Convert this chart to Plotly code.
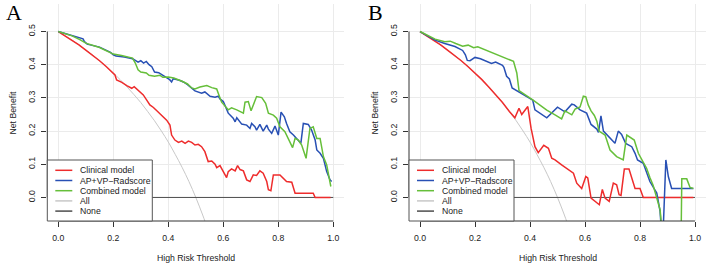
import plotly.graph_objects as go

W, H = 712, 268

# ---------------- data ----------------
series_names = ["Clinical model", "AP+VP\u2212Radscore", "Combined model", "All", "None"]
x_ticks = [0.0, 0.2, 0.4, 0.6, 0.8, 1.0]
x_tick_labels = ["0.0", "0.2", "0.4", "0.6", "0.8", "1.0"]
y_ticks = [0.0, 0.1, 0.2, 0.3, 0.4, 0.5]
y_tick_labels = ["0.0", "0.1", "0.2", "0.3", "0.4", "0.5"]

all_t = [0, 0.025, 0.05, 0.075, 0.1, 0.125, 0.15, 0.175, 0.2, 0.225, 0.25, 0.275, 0.3,
         0.325, 0.35, 0.375, 0.4, 0.425, 0.45, 0.475, 0.5, 0.525, 0.55]
all_nb = [0.5, 0.487, 0.474, 0.46, 0.444, 0.429, 0.412, 0.394, 0.375, 0.355, 0.333, 0.31, 0.286,
          0.259, 0.231, 0.2, 0.167, 0.13, 0.091, 0.048, 0.0, -0.053, -0.111]
none_t = [0, 1]
none_nb = [0, 0]

# Panel A
a_clin_t = [0, 0.025, 0.05, 0.075, 0.1, 0.125, 0.15, 0.175, 0.2, 0.206, 0.212, 0.231, 0.249, 0.267,
            0.276, 0.285, 0.297, 0.309, 0.321, 0.333, 0.346, 0.358, 0.376, 0.394, 0.406, 0.412,
            0.424, 0.437, 0.449, 0.461, 0.473, 0.485, 0.497, 0.509, 0.521, 0.533, 0.545, 0.558,
            0.570, 0.576, 0.588, 0.600, 0.612, 0.618, 0.630, 0.643, 0.652, 0.661, 0.673, 0.685,
            0.697, 0.709, 0.721, 0.733, 0.745, 0.758, 0.764, 0.773, 0.782, 0.806, 0.818, 0.830,
            0.849, 0.861, 0.927, 0.934, 0.99]
a_clin_nb = [0.5, 0.487, 0.474, 0.46, 0.444, 0.429, 0.412, 0.394, 0.375, 0.369, 0.354, 0.347, 0.337,
             0.329, 0.334, 0.327, 0.319, 0.309, 0.294, 0.279, 0.271, 0.261, 0.248, 0.233, 0.218,
             0.188, 0.173, 0.166, 0.170, 0.163, 0.170, 0.166, 0.158, 0.160, 0.153, 0.138, 0.108,
             0.110, 0.100, 0.090, 0.096, 0.078, 0.060, 0.078, 0.086, 0.080, 0.096, 0.084, 0.080,
             0.053, 0.048, 0.068, 0.066, 0.080, 0.073, 0.048, 0.023, 0.020, 0.068, 0.068, 0.058,
             0.048, 0.046, 0.013, 0.013, 0.0, 0.0]

a_rad_t = [0, 0.05, 0.08, 0.09, 0.095, 0.105, 0.15, 0.18, 0.19, 0.2, 0.21, 0.24, 0.27, 0.28, 0.29,
           0.30, 0.31, 0.32, 0.33, 0.34, 0.35, 0.365, 0.38, 0.395, 0.405, 0.412, 0.418, 0.44,
           0.455, 0.47, 0.485, 0.497, 0.521, 0.533, 0.552, 0.570, 0.582, 0.588, 0.600, 0.618,
           0.636, 0.643, 0.649, 0.661, 0.667, 0.685, 0.697, 0.703, 0.715, 0.721, 0.733, 0.745,
           0.758, 0.764, 0.776, 0.788, 0.800, 0.810, 0.822, 0.830, 0.842, 0.855, 0.867, 0.882,
           0.891, 0.909, 0.921, 0.934, 0.940, 0.952, 0.964, 0.976, 0.988, 0.994]
a_rad_nb = [0.5, 0.488, 0.481, 0.478, 0.47, 0.462, 0.453, 0.44, 0.437, 0.43, 0.426, 0.423, 0.418,
            0.413, 0.408, 0.412, 0.405, 0.41, 0.40, 0.394, 0.378, 0.376, 0.368, 0.36, 0.355, 0.348,
            0.358, 0.353, 0.348, 0.34, 0.33, 0.321, 0.314, 0.318, 0.305, 0.302, 0.305, 0.297,
            0.289, 0.254, 0.239, 0.228, 0.240, 0.228, 0.221, 0.218, 0.208, 0.223, 0.213, 0.203,
            0.220, 0.200, 0.218, 0.206, 0.193, 0.215, 0.188, 0.257, 0.243, 0.223, 0.198, 0.188,
            0.178, 0.163, 0.223, 0.220, 0.203, 0.173, 0.143, 0.133, 0.118, 0.078, 0.053, 0.048]

a_comb_t = [0, 0.05, 0.08, 0.10, 0.15, 0.18, 0.20, 0.23, 0.26, 0.27, 0.28, 0.29, 0.30, 0.32, 0.33,
            0.35, 0.37, 0.38, 0.40, 0.42, 0.45, 0.47, 0.485, 0.497, 0.515, 0.540, 0.558, 0.576,
            0.584, 0.594, 0.618, 0.630, 0.649, 0.673, 0.679, 0.691, 0.701, 0.721, 0.740, 0.754,
            0.764, 0.782, 0.794, 0.806, 0.824, 0.840, 0.852, 0.861, 0.873, 0.885, 0.901, 0.915,
            0.927, 0.940, 0.952, 0.964, 0.976, 0.991]
a_comb_nb = [0.5, 0.487, 0.475, 0.465, 0.452, 0.44, 0.432, 0.428, 0.422, 0.420, 0.405, 0.385, 0.378,
             0.375, 0.368, 0.365, 0.368, 0.362, 0.363, 0.36, 0.35, 0.342, 0.33, 0.327, 0.333, 0.337,
             0.331, 0.327, 0.309, 0.287, 0.264, 0.270, 0.264, 0.254, 0.287, 0.289, 0.261, 0.304,
             0.301, 0.284, 0.254, 0.248, 0.239, 0.213, 0.198, 0.173, 0.150, 0.178, 0.173, 0.158,
             0.118, 0.208, 0.213, 0.178, 0.178, 0.123, 0.098, 0.033]

# Panel B
b_clin_t = [0, 0.025, 0.05, 0.075, 0.1, 0.125, 0.15, 0.175, 0.2, 0.225, 0.25, 0.275, 0.3, 0.325,
            0.345, 0.36, 0.37, 0.392, 0.404, 0.418, 0.43, 0.45, 0.467, 0.479, 0.491, 0.515, 0.539,
            0.558, 0.570, 0.588, 0.603, 0.610, 0.622, 0.636, 0.652, 0.663, 0.673, 0.688, 0.703,
            0.715, 0.724, 0.731, 0.743, 0.760, 0.782, 0.800, 0.812, 0.994]
b_clin_nb = [0.5, 0.487, 0.474, 0.46, 0.444, 0.429, 0.412, 0.394, 0.375, 0.355, 0.333, 0.31, 0.286,
             0.259, 0.240, 0.269, 0.25, 0.274, 0.208, 0.153, 0.135, 0.157, 0.148, 0.118, 0.113,
             0.098, 0.083, 0.073, 0.043, 0.027, 0.063, 0.059, -0.002, -0.012, -0.022, 0.024,
             -0.002, -0.012, 0.043, 0.038, 0.008, 0.006, 0.086, 0.086, 0.027, 0.027, 0.0, 0.0]

b_rad_t = [0, 0.055, 0.09, 0.127, 0.155, 0.165, 0.172, 0.182, 0.20, 0.22, 0.26, 0.275, 0.30, 0.305,
           0.315, 0.325, 0.335, 0.345, 0.36, 0.41, 0.418, 0.461, 0.50, 0.515, 0.527, 0.552, 0.561,
           0.582, 0.606, 0.622, 0.643, 0.649, 0.658, 0.667, 0.691, 0.709, 0.721, 0.733, 0.748,
           0.770, 0.782, 0.791, 0.812, 0.824, 0.836, 0.861, 0.873, 0.882, 0.894, 0.903, 0.915, 0.994]
b_rad_nb = [0.5, 0.474, 0.464, 0.455, 0.443, 0.43, 0.413, 0.412, 0.422, 0.418, 0.404, 0.408, 0.398,
            0.392, 0.365, 0.357, 0.33, 0.325, 0.32, 0.293, 0.264, 0.240, 0.272, 0.264, 0.258, 0.281,
            0.279, 0.264, 0.254, 0.220, 0.206, 0.196, 0.246, 0.200, 0.178, 0.163, 0.200, 0.190,
            0.163, 0.153, 0.133, 0.113, 0.103, 0.078, 0.048, 0.013, -0.042, -0.15, 0.113, 0.063,
            0.027, 0.027]

b_comb_t = [0, 0.055, 0.09, 0.11, 0.13, 0.155, 0.175, 0.195, 0.21, 0.30, 0.34, 0.352, 0.36, 0.41,
            0.461, 0.491, 0.515, 0.527, 0.545, 0.552, 0.564, 0.582, 0.594, 0.603, 0.612, 0.622,
            0.634, 0.643, 0.651, 0.673, 0.691, 0.715, 0.739, 0.752, 0.779, 0.794, 0.809, 0.824,
            0.836, 0.848, 0.861, 0.873, 0.885, 0.949, 0.952, 0.970, 0.982, 0.994]
b_comb_nb = [0.5, 0.477, 0.469, 0.471, 0.464, 0.456, 0.459, 0.451, 0.454, 0.425, 0.41, 0.375, 0.322,
             0.294, 0.263, 0.249, 0.237, 0.261, 0.254, 0.249, 0.266, 0.273, 0.305, 0.303, 0.278,
             0.261, 0.247, 0.230, 0.200, 0.188, 0.143, 0.123, 0.113, 0.188, 0.173, 0.133, 0.110,
             0.088, 0.060, 0.036, -0.002, -0.037, -0.15, -0.15, 0.056, 0.056, 0.030, 0.027]

# ---------------- style ----------------
RED = "#EE2C2C"
BLUE = "#2850B4"
GREEN = "#66BF3A"
ALLC = "#C8C8C8"
NONEC = "#4D4D4D"
colors = [RED, BLUE, GREEN, ALLC, NONEC]
FONT = "Liberation Sans, Arial, Helvetica, sans-serif"
FS = 8.7
TXT = "#222222"
LW = 1.5

fig = go.Figure()


def add_panel(xa, ya, clin, rad, comb):
    kw = dict(xaxis=xa, yaxis=ya, mode="lines", showlegend=False, hoverinfo="skip")
    fig.add_trace(go.Scatter(x=all_t, y=all_nb, line=dict(color=ALLC, width=1, shape="spline"), **kw))
    fig.add_trace(go.Scatter(x=none_t, y=none_nb, line=dict(color=NONEC, width=1), **kw))
    fig.add_trace(go.Scatter(x=clin[0], y=clin[1], line=dict(color=RED, width=LW), **kw))
    fig.add_trace(go.Scatter(x=rad[0], y=rad[1], line=dict(color=BLUE, width=LW), **kw))
    fig.add_trace(go.Scatter(x=comb[0], y=comb[1], line=dict(color=GREEN, width=LW), **kw))


add_panel("x", "y", (a_clin_t, a_clin_nb), (a_rad_t, a_rad_nb), (a_comb_t, a_comb_nb))
add_panel("x2", "y2", (b_clin_t, b_clin_nb), (b_rad_t, b_rad_nb), (b_comb_t, b_comb_nb))


def px_x(p):
    return p / W


def px_y(p):
    return 1 - p / H


panels = [
    dict(left=47.3, right=344.3, name="A", lab_x=4, ytitle_x=12, xa="x", ya="y"),
    dict(left=409.0, right=706.0, name="B", lab_x=366, ytitle_x=374, xa="x2", ya="y2"),
]
top_px, bot_px = 4, 221

common_x = dict(range=[-0.04, 1.04], tickvals=x_ticks, ticktext=x_tick_labels, ticks="outside",
                ticklen=5, tickwidth=1, tickcolor="#333333", showgrid=True, gridcolor="#EBEBEB",
                gridwidth=1, zeroline=False, showline=False, ticklabelstandoff=4,
                tickfont=dict(family=FONT, size=FS, color=TXT), fixedrange=True)
common_y = dict(range=[-0.071, 0.583], tickvals=y_ticks, ticktext=y_tick_labels, ticks="outside",
                ticklen=5, tickwidth=1, tickcolor="#333333", showgrid=True, gridcolor="#EBEBEB",
                gridwidth=1, zeroline=False, showline=False, tickangle=-90, ticklabelstandoff=3,
                tickfont=dict(family=FONT, size=FS, color=TXT), fixedrange=True)

layout_axes = {}
shapes = []
annotations = []
for i, p in enumerate(panels):
    sfx = "" if i == 0 else "2"
    layout_axes["xaxis" + sfx] = dict(common_x, domain=[px_x(p["left"]), px_x(p["right"])],
                                      anchor=p["ya"])
    layout_axes["yaxis" + sfx] = dict(common_y, domain=[px_y(bot_px), px_y(top_px)],
                                      anchor=p["xa"])
    xd = p["xa"] + " domain"
    yd = p["ya"] + " domain"
    # axis lines (R style: from first to last tick)
    shapes.append(dict(type="line", xref=p["xa"], yref=yd, x0=0, x1=1, y0=0, y1=0,
                       line=dict(color="#333333", width=1)))
    shapes.append(dict(type="line", xref=xd, yref=p["ya"], x0=0, x1=0, y0=0, y1=0.5,
                       line=dict(color="#333333", width=1)))
    # legend box
    lx0 = p["left"]
    lx1 = lx0 + 105
    ly0, ly1 = 160, 221
    shapes.append(dict(type="rect", xref="paper", yref="paper", x0=px_x(lx0), x1=px_x(lx1),
                       y0=px_y(ly1), y1=px_y(ly0), line=dict(color="#555555", width=1),
                       fillcolor="white", layer="above"))
    for k, (nm, c) in enumerate(zip(series_names, colors)):
        ry = 170.3 + k * 10.2
        shapes.append(dict(type="line", xref="paper", yref="paper", x0=px_x(lx0 + 8),
                           x1=px_x(lx0 + 25), y0=px_y(ry), y1=px_y(ry),
                           line=dict(color=c, width=LW), layer="above"))
        annotations.append(dict(x=px_x(lx0 + 30.5), y=px_y(ry), xref="paper", yref="paper",
                                text=nm, showarrow=False, xanchor="left", yanchor="middle",
                                font=dict(family=FONT, size=FS, color=TXT)))
    # axis titles
    annotations.append(dict(x=(px_x(p["left"]) + px_x(p["right"])) / 2, y=px_y(258),
                            xref="paper", yref="paper", text="High Risk Threshold",
                            showarrow=False, xanchor="center", yanchor="middle",
                            font=dict(family=FONT, size=FS, color=TXT)))
    annotations.append(dict(x=px_x(p["ytitle_x"]), y=px_y((top_px + bot_px) / 2),
                            xref="paper", yref="paper", text="Net Benefit", textangle=-90,
                            showarrow=False, xanchor="center", yanchor="middle",
                            font=dict(family=FONT, size=FS, color=TXT)))
    # panel letter
    annotations.append(dict(x=px_x(p["lab_x"]), y=px_y(13), xref="paper", yref="paper",
                            text=p["name"], showarrow=False, xanchor="left", yanchor="middle",
                            font=dict(family="Liberation Serif, Times New Roman, serif",
                                      size=22, color="#000000")))

fig.update_layout(
    width=W, height=H, margin=dict(l=0, r=0, t=0, b=0),
    paper_bgcolor="white", plot_bgcolor="white", showlegend=False,
    shapes=shapes, annotations=annotations, **layout_axes,
)

fig.write_html("out.html", config={"displayModeBar": False, "staticPlot": True},
               post_script="document.body.style.margin='0px';document.body.style.overflow='hidden';")
